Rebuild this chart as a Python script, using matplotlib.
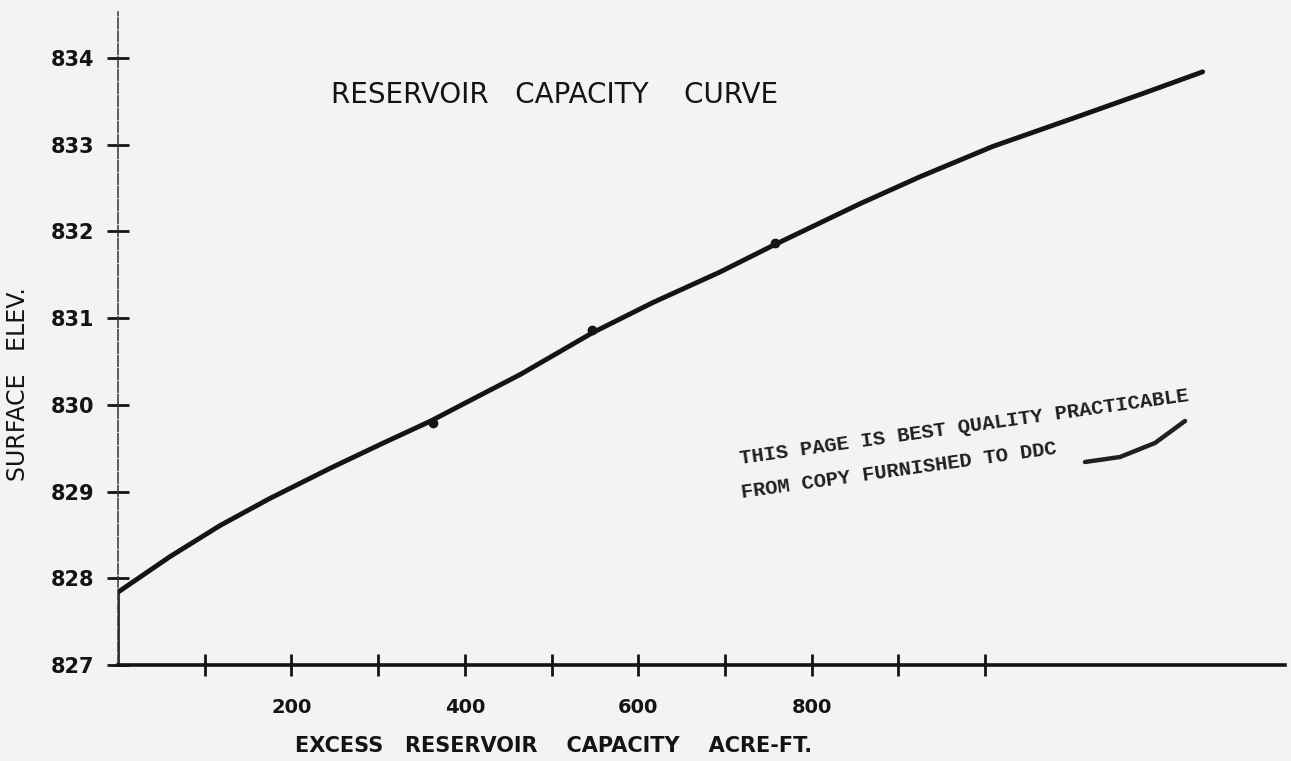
import matplotlib
matplotlib.use("Agg")
import matplotlib.pyplot as plt
from matplotlib.lines import Line2D

# Curve (excess reservoir capacity, acre-ft  vs  surface elevation, ft)
capacity = [0, 60, 118, 175, 245, 306, 360, 406, 464, 547, 617, 694, 758,
            856, 925, 1009, 1106, 1182, 1251]
elevation = [827.84, 828.25, 828.61, 828.92, 829.27, 829.56, 829.81, 830.05,
             830.35, 830.83, 831.18, 831.53, 831.85, 832.32, 832.63, 832.98,
             833.32, 833.59, 833.84]

# plotted data points
point_cap = [363, 547, 758]
point_elev = [829.79, 830.86, 831.87]

y_ticks = [827, 828, 829, 830, 831, 832, 833, 834]
y_tick_labels = ["827", "828", "829", "830", "831", "832", "833", "834"]
x_major = [200, 400, 600, 800]
x_major_labels = ["200", "400", "600", "800"]
x_minor = [100, 300, 500, 700, 900, 1000]

title = "RESERVOIR   CAPACITY    CURVE"
xlabel = "EXCESS   RESERVOIR    CAPACITY    ACRE-FT."
ylabel = "SURFACE   ELEV."
stamp1 = "THIS PAGE IS BEST QUALITY PRACTICABLE"
stamp2 = "FROM COPY FURNISHED TO DDC"

paper = "#f3f3f1"
ink = "#141414"

fig = plt.figure(figsize=(12.91, 7.61), dpi=100, facecolor=paper)
ax = fig.add_axes([118 / 1291, 1 - 665 / 761, 1167 / 1291, 653 / 761])
ax.set_facecolor(paper)

ax.set_xlim(0, 1346)
ax.set_ylim(827, 834.53)

ax.plot(capacity, elevation, color=ink, lw=3.5, solid_capstyle="round",
        solid_joinstyle="round")
ax.plot(point_cap, point_elev, "o", color=ink, ms=6)
ax.vlines(capacity[0], 827, elevation[0], color=ink, lw=2.6)

for s in ["top", "right"]:
    ax.spines[s].set_visible(False)
ax.spines["bottom"].set_linewidth(2.6)
ax.spines["bottom"].set_color(ink)
ax.spines["left"].set_linewidth(1.1)
ax.spines["left"].set_color("#333333")
ax.spines["left"].set_linestyle((0, (7, 1.5)))

ax.set_yticks(y_ticks)
ax.set_yticklabels(y_tick_labels)
ax.set_xticks(x_major)
ax.set_xticklabels(x_major_labels)
ax.set_xticks(x_minor, minor=True)

ax.tick_params(axis="y", direction="inout", length=16, width=2, color=ink,
               pad=9, labelsize=15, labelcolor=ink)
ax.tick_params(axis="x", which="both", direction="inout", length=16, width=2,
               color=ink, pad=16, labelsize=14, labelcolor=ink)
for lab in ax.get_xticklabels() + ax.get_yticklabels():
    lab.set_fontweight("semibold")

ax.set_xlabel(xlabel, fontsize=15, color=ink, fontweight="semibold")
ax.xaxis.set_label_coords(0.373, -0.108)
ax.set_ylabel(ylabel, fontsize=17, color=ink)
ax.yaxis.set_label_coords(-0.075, 0.43)

ax.text(0.374, 0.873, title, transform=ax.transAxes, ha="center", va="center",
        fontsize=20, color=ink)

# stamp
fig.text(740 / 1291, 1 - 464 / 761, stamp1, family="Liberation Mono",
         fontweight="bold", fontsize=14.8, color="#202020", rotation=8,
         rotation_mode="anchor", ha="left", va="baseline")
fig.text(742 / 1291, 1 - 498 / 761, stamp2, family="Liberation Mono",
         fontweight="bold", fontsize=14.8, color="#202020", rotation=8,
         rotation_mode="anchor", ha="left", va="baseline")
fig.add_artist(Line2D([1085 / 1291, 1120 / 1291, 1155 / 1291, 1185 / 1291],
                      [1 - 462 / 761, 1 - 457 / 761, 1 - 443 / 761,
                       1 - 421 / 761],
                      transform=fig.transFigure, color="#202020", lw=3.2,
                      solid_capstyle="round", solid_joinstyle="round"))

fig.savefig("out.png", dpi=100, facecolor=paper)
